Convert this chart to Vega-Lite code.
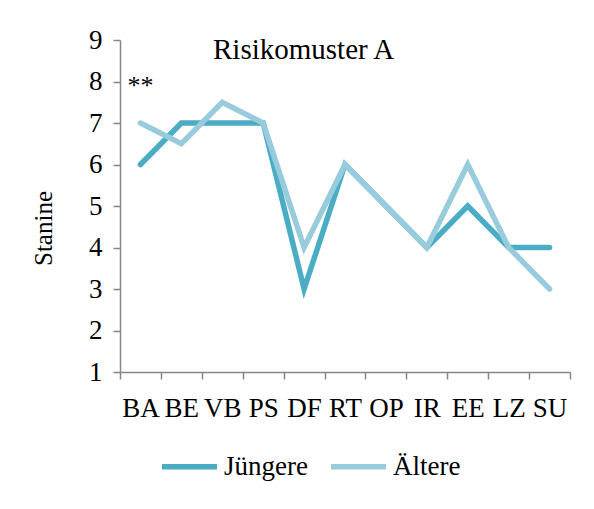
{
  "$schema": "https://vega.github.io/schema/vega-lite/v6.json",
  "autosize": "none",
  "width": 450,
  "height": 332,
  "padding": {"left": 120, "top": 40, "right": 24, "bottom": 137},
  "background": "white",
  "config": {
    "font": "Liberation Serif",
    "view": {"stroke": null},
    "axis": {"domainColor": "#868686", "tickColor": "#868686", "labelColor": "black", "titleColor": "black", "labelFont": "Liberation Serif", "titleFont": "Liberation Serif", "labelFontSize": 27, "titleFontSize": 25, "titleFontWeight": "normal", "grid": false, "domainWidth": 1.5, "tickWidth": 1.5}
  },
  "title": {"text": "Risikomuster A", "anchor": "start", "frame": "group", "dx": 93, "offset": -20, "dy": 42, "baseline": "alphabetic", "fontSize": 29, "fontWeight": "normal", "font": "Liberation Serif", "color": "black"},
  "datasets": {
    "lines": [
      {"cat": "BA", "group": "Jüngere", "value": 6},
      {"cat": "BE", "group": "Jüngere", "value": 7},
      {"cat": "VB", "group": "Jüngere", "value": 7},
      {"cat": "PS", "group": "Jüngere", "value": 7},
      {"cat": "DF", "group": "Jüngere", "value": 3},
      {"cat": "RT", "group": "Jüngere", "value": 6},
      {"cat": "OP", "group": "Jüngere", "value": 5},
      {"cat": "IR", "group": "Jüngere", "value": 4},
      {"cat": "EE", "group": "Jüngere", "value": 5},
      {"cat": "LZ", "group": "Jüngere", "value": 4},
      {"cat": "SU", "group": "Jüngere", "value": 4},
      {"cat": "BA", "group": "Ältere", "value": 7},
      {"cat": "BE", "group": "Ältere", "value": 6.5},
      {"cat": "VB", "group": "Ältere", "value": 7.5},
      {"cat": "PS", "group": "Ältere", "value": 7},
      {"cat": "DF", "group": "Ältere", "value": 4},
      {"cat": "RT", "group": "Ältere", "value": 6},
      {"cat": "OP", "group": "Ältere", "value": 5},
      {"cat": "IR", "group": "Ältere", "value": 4},
      {"cat": "EE", "group": "Ältere", "value": 6},
      {"cat": "LZ", "group": "Ältere", "value": 4},
      {"cat": "SU", "group": "Ältere", "value": 3}
    ],
    "notes": [{"cat": "BA", "value": 8, "label": "**"}]
  },
  "layer": [
    {
      "data": {"name": "lines"},
      "mark": {"type": "line", "strokeWidth": 5.5, "strokeCap": "round", "strokeJoin": "miter"},
      "encoding": {
        "x": {"field": "cat", "type": "nominal", "sort": ["BA","BE","VB","PS","DF","RT","OP","IR","EE","LZ","SU"],
              "scale": {"type": "band", "paddingInner": 0, "paddingOuter": 0},
              "axis": {"title": null, "labelAngle": 0, "tickBand": "extent", "tickSize": 7, "labelPadding": 16}},
        "y": {"field": "value", "type": "quantitative", "scale": {"domain": [1, 9], "nice": false, "zero": false},
              "axis": {"title": "Stanine", "values": [1,2,3,4,5,6,7,8,9], "tickSize": 7, "labelPadding": 11, "titlePadding": 32, "titleY": 188, "titleAlign": "center"}},
        "color": {"field": "group", "type": "nominal", "scale": {"domain": ["Jüngere", "Ältere"], "range": ["#4BACC6", "#98CCDC"]},
                  "legend": {"title": null, "orient": "none", "direction": "horizontal", "legendX": 39, "legendY": 396, "symbolType": "stroke", "symbolSize": 3025, "symbolStrokeWidth": 5.5, "labelFontSize": 27, "labelFont": "Liberation Serif", "labelColor": "black", "columnPadding": 12, "labelOffset": 4}},
        "order": {"field": "group", "sort": "descending"}
      }
    },
    {
      "data": {"name": "notes"},
      "mark": {"type": "text", "fontSize": 26, "font": "Liberation Serif", "baseline": "alphabetic", "dy": 12, "color": "black"},
      "encoding": {
        "x": {"field": "cat", "type": "nominal", "sort": ["BA","BE","VB","PS","DF","RT","OP","IR","EE","LZ","SU"]},
        "y": {"field": "value", "type": "quantitative"},
        "text": {"field": "label"}
      }
    }
  ]
}
